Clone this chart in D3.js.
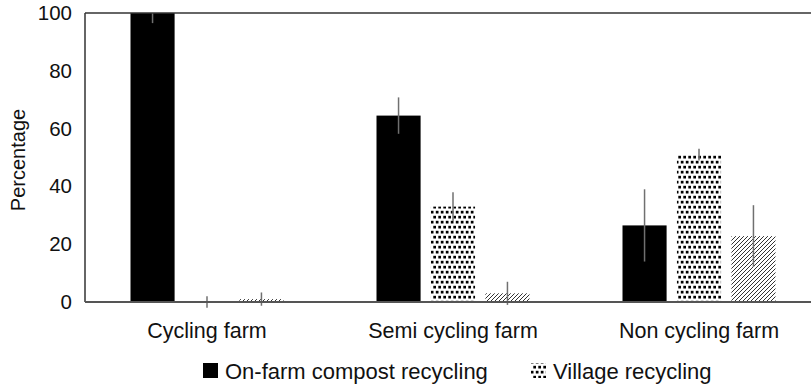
<!DOCTYPE html>
<html>
<head>
<meta charset="utf-8">
<script src="https://cdn.jsdelivr.net/npm/d3@7/dist/d3.min.js"></script>
<style>
  html, body { margin: 0; padding: 0; background: #fff; }
  svg { display: block; }
  text { font-family: "Liberation Sans", Arial, sans-serif; fill: #111; }
</style>
</head>
<body>
<svg id="chart" width="811" height="386"></svg>
<script>
const categories = ["Cycling farm", "Semi cycling farm", "Non cycling farm"];
const seriesNames = ["On-farm compost recycling", "Village recycling", "Other"];
const onFarmValues = [100, 64.5, 26.5];
const onFarmErrors = [3.5, 6.3, 12.5];
const villageValues = [0, 33, 51];
const villageErrors = [2, 5, 2];
const otherValues = [1, 3, 22.8];
const otherErrors = [2.3, 4, 10.7];
const yTicks = [0, 20, 40, 60, 80, 100];
const legendSeries = ["On-farm compost recycling", "Village recycling"];

const seriesValues = [onFarmValues, villageValues, otherValues];
const seriesErrors = [onFarmErrors, villageErrors, otherErrors];

const svg = d3.select("#chart");
const margin = { left: 85, top: 13, bottom: 302 };

const defs = svg.append("defs");
// dotted pattern
const pw = 5, ph = 10, ds = 2.7;
const dots = defs.append("pattern").attr("id", "dots")
  .attr("patternUnits", "userSpaceOnUse").attr("width", pw).attr("height", ph);
dots.append("rect").attr("width", pw).attr("height", ph).attr("fill", "#fff");
[[0.8, 0.8], [3.3, 5.8], [-1.7, 5.8]].forEach(([dx, dy]) => {
  dots.append("rect").attr("x", dx).attr("y", dy).attr("width", ds).attr("height", ds).attr("fill", "#000");
});
// hatch pattern
const hatch = defs.append("pattern").attr("id", "hatch")
  .attr("patternUnits", "userSpaceOnUse").attr("width", 4).attr("height", 4);
hatch.append("rect").attr("width", 4).attr("height", 4).attr("fill", "#fff");
hatch.append("path").attr("d", "M-1,1 L1,-1 M0,4 L4,0 M3,5 L5,3")
  .attr("stroke", "#333").attr("stroke-width", 1);

defs.append("clipPath").attr("id", "plotClip")
  .append("rect").attr("x", 0).attr("y", margin.top).attr("width", 811).attr("height", margin.bottom - margin.top + 20);

const fills = ["#000", "url(#dots)", "url(#hatch)"];

const x = d3.scaleBand().domain(categories).range([84, 822]);
const xs = d3.scaleBand().domain(seriesNames)
  .range([x.bandwidth() / 2 - 76.5, x.bandwidth() / 2 + 76.5]).paddingInner(0.19).paddingOuter(0);
const y = d3.scaleLinear().domain([0, 100]).range([margin.bottom, margin.top]);

const data = [];
categories.forEach((c, ci) => {
  seriesNames.forEach((s, si) => {
    data.push({ cat: c, ser: s, si, v: seriesValues[si][ci], e: seriesErrors[si][ci] });
  });
});

const plot = svg.append("g").attr("clip-path", "url(#plotClip)");
plot.selectAll("rect.bar").data(data).enter().append("rect")
  .attr("class", "bar")
  .attr("x", d => x(d.cat) + xs(d.ser))
  .attr("width", xs.bandwidth())
  .attr("y", d => y(d.v))
  .attr("height", d => y(0) - y(d.v))
  .attr("fill", d => fills[d.si]);

plot.selectAll("line.err").data(data).enter().append("line")
  .attr("class", "err")
  .attr("x1", d => x(d.cat) + xs(d.ser) + xs.bandwidth() / 2)
  .attr("x2", d => x(d.cat) + xs(d.ser) + xs.bandwidth() / 2)
  .attr("y1", d => y(d.v + d.e))
  .attr("y2", d => y(d.v - d.e))
  .attr("stroke", "#707070").attr("stroke-width", 1.5);

svg.append("line").attr("x1", margin.left).attr("x2", 811).attr("y1", margin.top).attr("y2", margin.top)
  .attr("stroke", "#333").attr("stroke-width", 1.5);
svg.append("line").attr("x1", margin.left).attr("x2", margin.left).attr("y1", margin.top).attr("y2", margin.bottom)
  .attr("stroke", "#333").attr("stroke-width", 1.5);

const yAxis = d3.axisLeft(y).tickValues(yTicks).tickSize(0).tickPadding(13);
const gy = svg.append("g").attr("transform", `translate(${margin.left},0)`).call(yAxis);
gy.select(".domain").remove();
gy.selectAll("text").style("font-size", "20.5px").attr("fill", "#111")
  .style("font-family", "'Liberation Sans', Arial, sans-serif");

const xAxis = d3.axisBottom(x).tickSize(0).tickPadding(21);
const gx = svg.append("g").attr("transform", `translate(0,${margin.bottom})`).call(xAxis);
gx.select(".domain").attr("stroke", "#555").attr("stroke-width", 2)
  .attr("d", `M${margin.left},0H811`);
gx.selectAll("text").style("font-size", "21.5px").attr("fill", "#111")
  .style("font-family", "'Liberation Sans', Arial, sans-serif");

svg.append("text")
  .attr("transform", "translate(25,160) rotate(-90)")
  .attr("text-anchor", "middle")
  .style("font-size", "20px")
  .text("Percentage");

const legendX = [203, 531];
const legendY = 378;
const lg = svg.append("g");
legendSeries.forEach((s, i) => {
  const si = seriesNames.indexOf(s);
  lg.append("rect").attr("x", legendX[i]).attr("y", legendY - 15).attr("width", 15).attr("height", 15)
    .attr("fill", fills[si]);
  lg.append("text").attr("x", legendX[i] + 22).attr("y", legendY + 1)
    .style("font-size", "22px").text(s);
});
</script>
</body>
</html>
